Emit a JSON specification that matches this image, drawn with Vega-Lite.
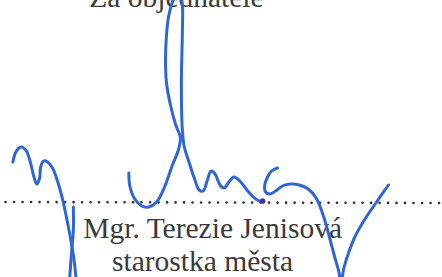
{
  "$schema": "https://vega.github.io/schema/vega-lite/v6.json",
  "autosize": {"type": "fit", "contains": "padding"},
  "width": 442,
  "height": 277,
  "padding": 0,
  "background": "white",
  "config": {"view": {"stroke": null}},
  "datasets": {
    "texts": [
      {"label": "Za objednatele", "x": 88, "y": 7},
      {"label": "Mgr. Terezie Jenisová", "x": 82, "y": 238},
      {"label": "starostka města", "x": 111, "y": 271}
    ],
    "dots": [
      {"x": 0, "x2": 442, "y": 202, "y2": 203}
    ],
    "sig": [
      {"s": "A", "o": 1, "x": 11, "y": 162},
      {"s": "A", "o": 2, "x": 14, "y": 152},
      {"s": "A", "o": 3, "x": 19, "y": 147},
      {"s": "A", "o": 4, "x": 24, "y": 150},
      {"s": "A", "o": 5, "x": 28, "y": 160},
      {"s": "A", "o": 6, "x": 32, "y": 176},
      {"s": "A", "o": 7, "x": 35, "y": 184},
      {"s": "A", "o": 8, "x": 38, "y": 178},
      {"s": "A", "o": 9, "x": 39, "y": 167},
      {"s": "A", "o": 10, "x": 42, "y": 161},
      {"s": "A", "o": 11, "x": 46, "y": 162},
      {"s": "A", "o": 12, "x": 51, "y": 168},
      {"s": "A", "o": 13, "x": 55, "y": 178},
      {"s": "A", "o": 14, "x": 59, "y": 191},
      {"s": "A", "o": 15, "x": 62, "y": 203},
      {"s": "A", "o": 16, "x": 66, "y": 222},
      {"s": "A", "o": 17, "x": 70, "y": 243},
      {"s": "A", "o": 18, "x": 73, "y": 262},
      {"s": "A", "o": 19, "x": 75, "y": 282},
      {"s": "A2", "o": 1, "x": 72, "y": 207},
      {"s": "A2", "o": 2, "x": 72, "y": 230},
      {"s": "A2", "o": 3, "x": 70, "y": 255},
      {"s": "A2", "o": 4, "x": 68, "y": 282},
      {"s": "B", "o": 1, "x": 128, "y": 173},
      {"s": "B", "o": 2, "x": 129, "y": 186},
      {"s": "B", "o": 3, "x": 134, "y": 199},
      {"s": "B", "o": 4, "x": 141, "y": 206},
      {"s": "B", "o": 5, "x": 148, "y": 207},
      {"s": "B", "o": 6, "x": 156, "y": 202},
      {"s": "B", "o": 7, "x": 164, "y": 187},
      {"s": "B", "o": 8, "x": 172, "y": 165},
      {"s": "B", "o": 9, "x": 178, "y": 150},
      {"s": "B", "o": 10, "x": 180, "y": 138},
      {"s": "B", "o": 11, "x": 175, "y": 124},
      {"s": "B", "o": 12, "x": 170, "y": 105},
      {"s": "B", "o": 13, "x": 166, "y": 83},
      {"s": "B", "o": 14, "x": 165, "y": 60},
      {"s": "B", "o": 15, "x": 166, "y": 35},
      {"s": "B", "o": 16, "x": 168, "y": 17},
      {"s": "B", "o": 17, "x": 172, "y": 2},
      {"s": "B", "o": 18, "x": 176, "y": -6},
      {"s": "B", "o": 19, "x": 180, "y": -4},
      {"s": "B", "o": 20, "x": 182, "y": 5},
      {"s": "B", "o": 21, "x": 182, "y": 33},
      {"s": "B", "o": 22, "x": 181, "y": 83},
      {"s": "B", "o": 23, "x": 182, "y": 130},
      {"s": "B", "o": 24, "x": 184, "y": 147},
      {"s": "B", "o": 25, "x": 189, "y": 163},
      {"s": "B", "o": 26, "x": 194, "y": 178},
      {"s": "B", "o": 27, "x": 199, "y": 190},
      {"s": "B", "o": 28, "x": 203, "y": 191},
      {"s": "B", "o": 29, "x": 207, "y": 181},
      {"s": "B", "o": 30, "x": 211, "y": 171},
      {"s": "B", "o": 31, "x": 215, "y": 174},
      {"s": "B", "o": 32, "x": 220, "y": 185},
      {"s": "B", "o": 33, "x": 224, "y": 188},
      {"s": "B", "o": 34, "x": 229, "y": 182},
      {"s": "B", "o": 35, "x": 234, "y": 177},
      {"s": "B", "o": 36, "x": 240, "y": 181},
      {"s": "B", "o": 37, "x": 248, "y": 191},
      {"s": "B", "o": 38, "x": 256, "y": 199},
      {"s": "B", "o": 39, "x": 262, "y": 202},
      {"s": "C", "o": 1, "x": 278, "y": 168},
      {"s": "C", "o": 2, "x": 272, "y": 171},
      {"s": "C", "o": 3, "x": 268, "y": 177},
      {"s": "C", "o": 4, "x": 265, "y": 186},
      {"s": "C", "o": 5, "x": 266, "y": 192},
      {"s": "C", "o": 6, "x": 270, "y": 194},
      {"s": "C", "o": 7, "x": 276, "y": 191},
      {"s": "C", "o": 8, "x": 283, "y": 186},
      {"s": "C", "o": 9, "x": 291, "y": 184},
      {"s": "C", "o": 10, "x": 300, "y": 185},
      {"s": "C", "o": 11, "x": 309, "y": 189},
      {"s": "C", "o": 12, "x": 317, "y": 198},
      {"s": "C", "o": 13, "x": 323, "y": 212},
      {"s": "C", "o": 14, "x": 328, "y": 228},
      {"s": "C", "o": 15, "x": 332, "y": 243},
      {"s": "C", "o": 16, "x": 336, "y": 258},
      {"s": "C", "o": 17, "x": 340, "y": 272},
      {"s": "C", "o": 18, "x": 342, "y": 284},
      {"s": "C", "o": 19, "x": 345, "y": 268},
      {"s": "C", "o": 20, "x": 350, "y": 252},
      {"s": "C", "o": 21, "x": 357, "y": 235},
      {"s": "C", "o": 22, "x": 367, "y": 218},
      {"s": "C", "o": 23, "x": 378, "y": 202},
      {"s": "C", "o": 24, "x": 390, "y": 185}
    ],
    "blot": [
      {"x": 263, "y": 201}
    ]
  },
  "layer": [
    {
      "data": {"name": "dots"},
      "mark": {"type": "rule", "color": "#333333", "strokeWidth": 2.6, "strokeCap": "round", "strokeDash": [0.1, 8.4], "strokeDashOffset": -3.5},
      "encoding": {
        "x": {"field": "x", "type": "quantitative", "scale": {"domain": [0, 442], "nice": false, "zero": false}, "axis": null},
        "x2": {"field": "x2"},
        "y": {"field": "y", "type": "quantitative", "scale": {"domain": [0, 277], "nice": false, "zero": false, "reverse": true}, "axis": null},
        "y2": {"field": "y2"}
      }
    },
    {
      "data": {"name": "texts"},
      "mark": {"type": "text", "font": "Liberation Serif", "fontSize": 29.5, "align": "left", "baseline": "alphabetic", "color": "#3a3a3a", "clip": true},
      "encoding": {
        "x": {"field": "x", "type": "quantitative", "axis": null},
        "y": {"field": "y", "type": "quantitative", "axis": null},
        "text": {"field": "label"}
      }
    },
    {
      "data": {"name": "sig"},
      "mark": {"type": "line", "interpolate": "catmull-rom", "color": "#2f66d6", "strokeWidth": 3, "strokeCap": "round", "strokeJoin": "round", "clip": true},
      "encoding": {
        "x": {"field": "x", "type": "quantitative", "axis": null},
        "y": {"field": "y", "type": "quantitative", "axis": null},
        "detail": {"field": "s"},
        "order": {"field": "o", "type": "quantitative"}
      }
    },
    {
      "data": {"name": "blot"},
      "mark": {"type": "point", "filled": true, "color": "#4a2e9c", "size": 30, "opacity": 1},
      "encoding": {
        "x": {"field": "x", "type": "quantitative", "axis": null},
        "y": {"field": "y", "type": "quantitative", "axis": null}
      }
    }
  ]
}
